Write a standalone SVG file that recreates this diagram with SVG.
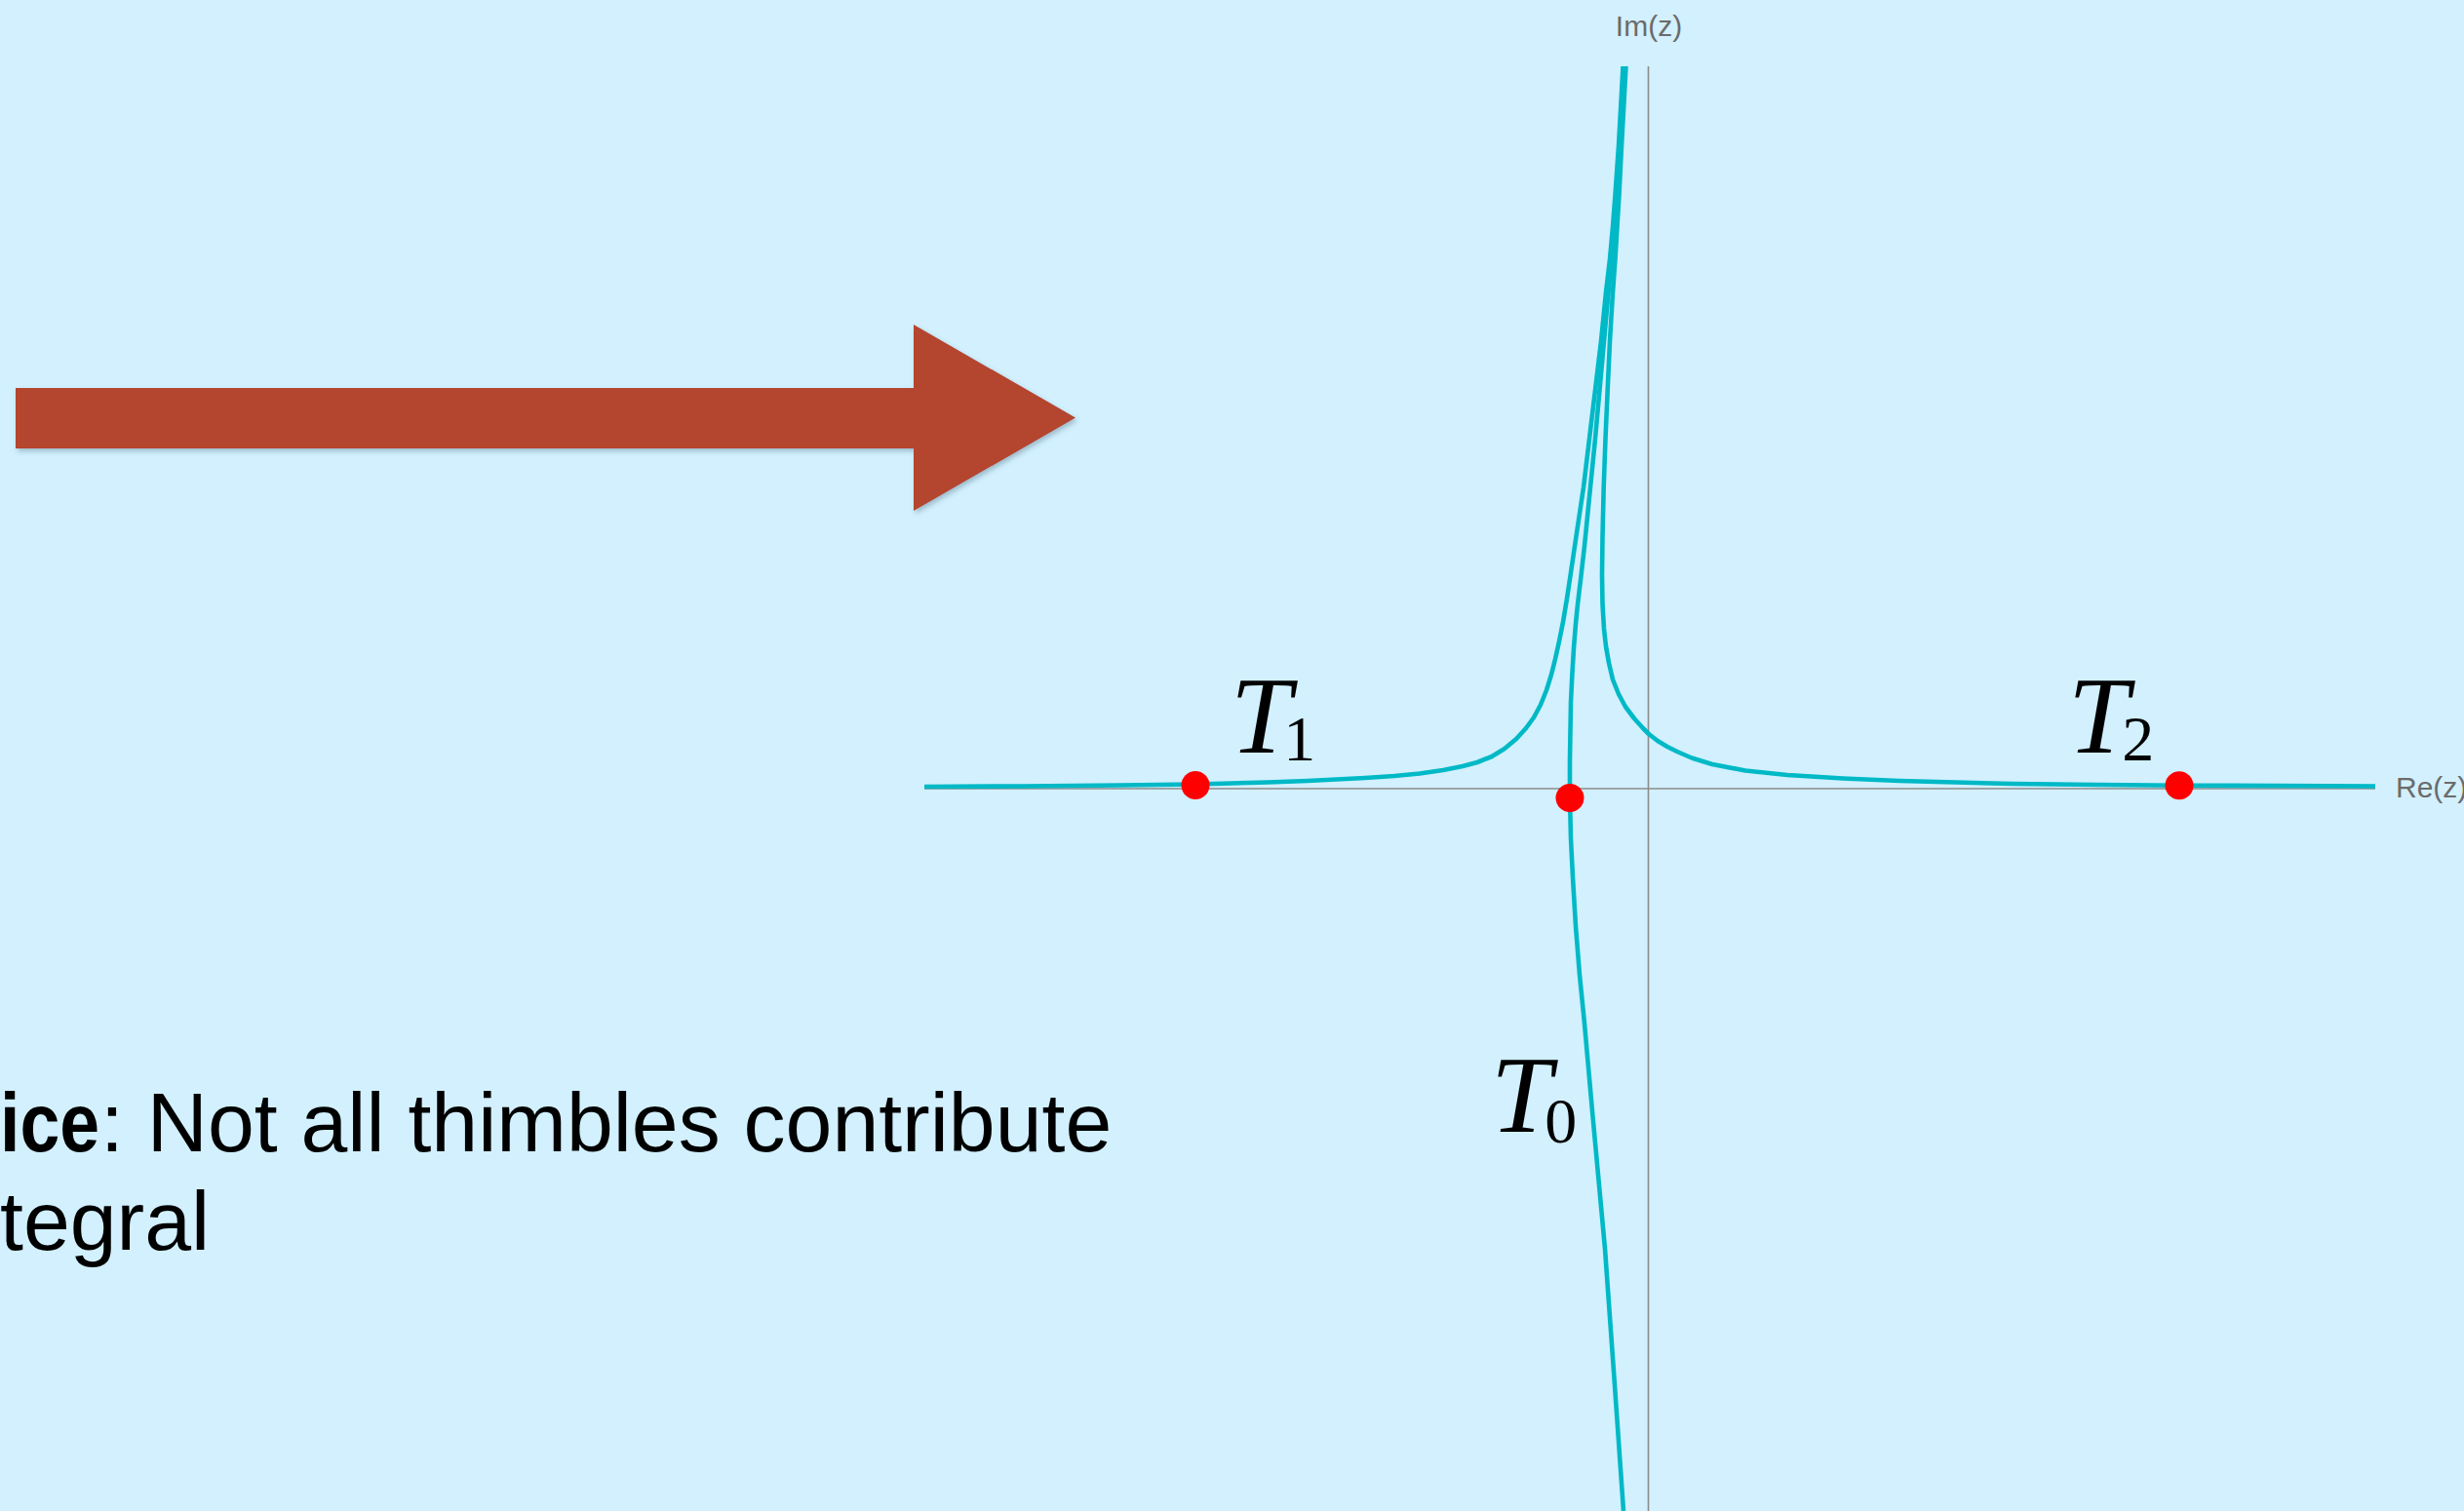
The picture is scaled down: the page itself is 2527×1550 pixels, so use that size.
<svg xmlns="http://www.w3.org/2000/svg" width="2527" height="1550" viewBox="0 0 2527 1550">
<defs>
<style>
.axis{stroke:#8c8c8c;stroke-width:1.6;fill:none}
.thimble{stroke:#00b9c6;stroke-width:4.6;fill:none;stroke-linejoin:round;stroke-linecap:butt}
.dot{fill:#ff0000}
.axlabel{font-family:"Liberation Sans",Arial,sans-serif;font-size:30px;fill:#6b6b6b}
.cal{font-family:"Liberation Serif","Times New Roman",serif;font-style:italic;font-size:112px;fill:#000}
.sub{font-style:normal;font-size:66px}
.body{font-family:"Liberation Sans",Arial,sans-serif;font-size:86px;fill:#000}
</style>
<filter id="shadow" x="-5%" y="-20%" width="110%" height="150%">
<feDropShadow dx="2" dy="3" stdDeviation="2.5" flood-color="#3a5a6a" flood-opacity="0.35"/>
</filter>
</defs>
<rect id="background" x="0" y="0" width="2527" height="1550" fill="#d2f0fe"/>
<g id="arrow">
<polygon points="16,398 937,398 937,333 1103,428.5 937,524 937,460 16,460" fill="#b4442f" filter="url(#shadow)"/>
</g>
<g id="axes">
<line class="axis" x1="1690.5" y1="68" x2="1690.5" y2="1550"/>
<line class="axis" x1="948" y1="809" x2="2436" y2="809"/>
<text class="axlabel" x="1691" y="37" text-anchor="middle">Im(z)</text>
<text class="axlabel" x="2457" y="818">Re(z)</text>
</g>
<g id="connectors">
<path id="thimble-T1" class="thimble" d="M948,807 L1050,806.5 L1150,805.5 L1226,804.5 L1300,802.5 L1341,801 L1400,798 L1430,796 L1456,793.5 L1480,790 L1500,786 L1515,782 L1530,776 L1543,768 L1555,758 L1565,747 L1573,736 L1580,723 L1586,708 L1591,692 L1595,676 L1599,658 L1603,638 L1607,614 L1610,594 L1614,567 L1618,540 L1621,520 L1624,500 L1630,450 L1636,400 L1642,350 L1647,300 L1651,266 L1654,233 L1656.5,200 L1660,150 L1662.5,105 L1664.5,68"/>
<path id="thimble-T0" class="thimble" d="M1665,1550 L1656,1421 L1646,1281 L1633,1140 L1625,1050 L1620,1000 L1616,950 L1613,900 L1611,860 L1610,819 L1610,780 L1610.5,750 L1611,720 L1612.5,690 L1614,665 L1616,640 L1618,620 L1621,595 L1625,560 L1628,530 L1631,500 L1636,450 L1640.5,400 L1645,350 L1649.5,300 L1653,266 L1656,233 L1658.5,200 L1661.5,150 L1664,105 L1666,68"/>
<path id="thimble-T2" class="thimble" d="M1667.5,68 L1665.5,105 L1663,150 L1660.5,200 L1658.5,233 L1656.5,266 L1654,300 L1651,350 L1648.7,400 L1646.5,450 L1644.7,500 L1643.5,550 L1643,590 L1643.5,620 L1645,645 L1647,663 L1650,680 L1654,697 L1660,712 L1667,725 L1676,737 L1685,747 L1691,753 L1700,760 L1710,766 L1720,771 L1735,777.5 L1756,784 L1790,790.5 L1833,795 L1890,798.5 L1948,801 L2063,804 L2150,805 L2235,805.7 L2436,806.5"/>
</g>
<g id="node-T1">
<circle class="dot" cx="1226" cy="805.5" r="14.5"/>
<text class="cal" x="1262" y="772">T<tspan class="sub" dx="-8" dy="8">1</tspan></text>
</g>
<g id="node-T0">
<circle class="dot" cx="1610" cy="818.5" r="14.5"/>
<text class="cal" x="1529" y="1161">T<tspan class="sub" dx="-7" dy="11">0</tspan></text>
</g>
<g id="node-T2">
<circle class="dot" cx="2235" cy="805.7" r="14.5"/>
<text class="cal" x="2121" y="772">T<tspan class="sub" dx="-7" dy="8">2</tspan></text>
</g>
<g id="caption">
<text class="body" x="0" y="1181"><tspan font-weight="bold" textLength="102" lengthAdjust="spacingAndGlyphs">ice</tspan><tspan x="103">: Not all thimbles contribute</tspan></text>
<text class="body" x="0" y="1282">tegral</text>
</g>
</svg>
